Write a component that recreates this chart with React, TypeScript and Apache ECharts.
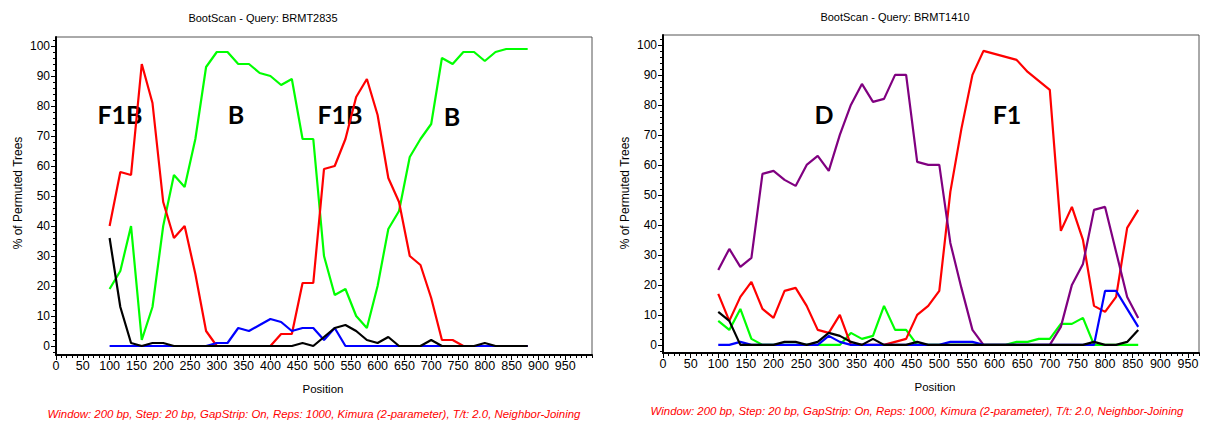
import React, { useEffect, useRef } from "react";
import * as echarts from "echarts";

// ---------- data ----------
const leftPositions = [100,120,140,160,180,200,220,240,260,280,300,320,340,360,380,400,420,440,460,480,500,520,540,560,580,600,620,640,660,680,700,720,740,760,780,800,820,840,860,880];
const leftRed   = [40,58,57,94,81,48,36,40,24,5, 0,0,0,0,0,0,4,4,21,21, 59,60,69,83,89,77,56,48,30,27, 16,2,2,0,0,0,0,0,0,0];
const leftGreen = [19,25,40,2,13,40,57,53,69,93, 98,98,94,94,91,90,87,89,69,69, 30,17,19,10,6,20,39,45,63,69, 74,96,94,98,98,95,98,99,99,99];
const leftBlue  = [0,0,0,0,0,0,0,0,0,0, 1,1,6,5,7,9,8,5,6,6, 2,6,0,0,0,0,0,0,0,0, 0,0,0,0,0,0,0,0,0,0];
const leftBlack = [36,13,1,0,1,1,0,0,0,0, 0,0,0,0,0,0,0,0,1,0, 3,6,7,5,2,1,3,0,0,0, 2,0,0,0,0,1,0,0,0,0];

const rightPositions = [100,120,140,160,180,200,220,240,260,280,300,320,340,360,380,400,420,440,460,480,500,520,540,560,580,600,620,640,660,680,700,720,740,760,780,800,820,840,860];
const rightPurple = [25,32,26,29,57,58,55,53,60,63, 58,70,80,87,81,82,90,90,61,60, 60,34,19,5,0,0,0,0,0,0, 0,6,20,27,45,46,31,16,9];
const rightRed    = [17,8,16,21,12,9,18,19,13,5, 4,10,0,0,0,0,1,2,10,13, 18,51,72,90,98,97,96,95,91,88, 85,38,46,35,13,11,16,39,45];
const rightGreen  = [8,5,12,2,0,0,0,0,0,0, 0,0,4,2,3,13,5,5,0,0, 0,0,0,0,0,0,0,1,1,2, 2,7,7,9,0,0,0,0,0];
const rightBlue   = [0,0,1,0,0,0,0,0,0,0, 3,1,0,0,0,0,0,0,0,0, 0,1,1,1,0,0,0,0,0,0, 0,0,0,0,0,18,18,12,6];
const rightBlack  = [11,8,0,0,0,0,1,1,0,1, 4,3,1,0,2,0,0,0,1,0, 0,0,0,0,0,0,0,0,0,0, 0,0,0,0,1,0,0,1,5];

const xTickLabels = [0,50,100,150,200,250,300,350,400,450,500,550,600,650,700,750,800,850,900,950];
const yTickLabels = [0,10,20,30,40,50,60,70,80,90,100];

const titles = ["BootScan - Query: BRMT2835", "BootScan - Query: BRMT1410"];
const yName = "% of Permuted Trees";
const xName = "Position";
const footnote = "Window: 200 bp, Step: 20 bp, GapStrip: On, Reps: 1000, Kimura (2-parameter), T/t: 2.0, Neighbor-Joining";
const leftRegions = ["F1B", "B", "F1B", "B"];
const rightRegions = ["D", "F1"];

// ---------- helpers ----------
const FONT = "'Liberation Sans', Arial, sans-serif";
const NARROW = "'Liberation Sans Narrow', 'Arial Narrow', 'Liberation Sans', Arial, sans-serif";

function range(a: number, b: number, step: number) {
  const out: number[] = [];
  for (let v = a; v <= b + 1e-9; v += step) out.push(Math.round(v * 100) / 100);
  return out;
}

function pairs(xs: number[], ys: number[]) {
  return xs.map((x, i) => [x, ys[i]]);
}

function xAxesFor(gridIndex: number, max: number) {
  const major = {
    type: "value", gridIndex, position: "bottom", min: 0, max,
    axisLine: { show: true, onZero: false, lineStyle: { color: "#000", width: 2 } },
    axisTick: { show: true, length: 5, customValues: xTickLabels.filter(v => v <= max), lineStyle: { color: "#000", width: 1 } },
    axisLabel: { show: true, customValues: xTickLabels, margin: 4, color: "#000", fontSize: 12.5, fontFamily: NARROW },
    splitLine: { show: false },
  };
  const minor = {
    type: "value", gridIndex, position: "bottom", min: 0, max,
    axisLine: { show: false, onZero: false },
    axisTick: { show: true, length: 3, customValues: range(0, max, 10), lineStyle: { color: "#000", width: 1 } },
    axisLabel: { show: false },
    splitLine: { show: false },
  };
  return [major, minor];
}

function yAxesFor(gridIndex: number, min: number, max: number) {
  const major = {
    type: "value", gridIndex, position: "left", min, max,
    axisLine: { show: true, onZero: false, lineStyle: { color: "#000", width: 2 } },
    axisTick: { show: true, length: 5, customValues: yTickLabels, lineStyle: { color: "#000", width: 1 } },
    axisLabel: { show: true, customValues: yTickLabels, margin: 6, color: "#000", fontSize: 12, fontFamily: FONT },
    splitLine: { show: false },
  };
  const minor = {
    type: "value", gridIndex, position: "left", min, max,
    axisLine: { show: false, onZero: false },
    axisTick: { show: true, length: 3, customValues: range(-2, 102, 2), lineStyle: { color: "#000", width: 1 } },
    axisLabel: { show: false },
    splitLine: { show: false },
  };
  return [major, minor];
}

function line(name: string, color: string, data: number[][], axisIdx: number) {
  return {
    name, type: "line", xAxisIndex: axisIdx, yAxisIndex: axisIdx,
    data, showSymbol: false, symbol: "none",
    lineStyle: { color, width: 2.2 }, itemStyle: { color },
    silent: true,
  };
}

function text(x: number, y: number, t: string, opts: any = {}) {
  return {
    type: "text", x, y, rotation: opts.rotation || 0, silent: true,
    style: {
      text: t, x: 0, y: 0,
      align: "center", verticalAlign: "middle",
      textAlign: "center", textVerticalAlign: "middle",
      fontSize: opts.fontSize || 11,
      fontFamily: opts.fontFamily || FONT,
      fontWeight: opts.fontWeight || "normal",
      fontStyle: opts.fontStyle || "normal",
      fill: opts.fill || "#000",
    },
  };
}

export default function App() {
  const ref = useRef<HTMLDivElement>(null);

  useEffect(() => {
    if (!ref.current) return;
    const chart = echarts.init(ref.current, undefined, { renderer: "svg" });

    const [lxMaj, lxMin] = xAxesFor(0, 1000);
    const [rxMaj, rxMin] = xAxesFor(1, 970);
    const [lyMaj, lyMin] = yAxesFor(0, -3, 103);
    const [ryMaj, ryMin] = yAxesFor(1, -2.7, 103.3);

    const L = leftPositions, R = rightPositions;
    const bigFont = { fontSize: 25, fontWeight: "bold", fontFamily: "Lato, 'Open Sans', sans-serif" };

    chart.setOption({
      animation: false,
      backgroundColor: "#fff",
      grid: [
        { left: 56, top: 37, width: 536, height: 318, show: true, borderColor: "#555", borderWidth: 1, backgroundColor: "#fff" },
        { left: 663, top: 35, width: 536, height: 318, show: true, borderColor: "#555", borderWidth: 1, backgroundColor: "#fff" },
      ],
      // order: 0 left major, 1 right major, 2 left minor, 3 right minor
      xAxis: [lxMaj, rxMaj, lxMin, rxMin],
      yAxis: [lyMaj, ryMaj, lyMin, ryMin],
      series: [
        line("Green", "#00ff00", pairs(L, leftGreen), 0),
        line("Red", "#ff0000", pairs(L, leftRed), 0),
        line("Blue", "#0000ff", pairs(L, leftBlue), 0),
        line("Black", "#000000", pairs(L, leftBlack), 0),
        line("Green", "#00ff00", pairs(R, rightGreen), 1),
        line("Red", "#ff0000", pairs(R, rightRed), 1),
        line("Purple", "#800080", pairs(R, rightPurple), 1),
        line("Blue", "#0000ff", pairs(R, rightBlue), 1),
        line("Black", "#000000", pairs(R, rightBlack), 1),
      ],
      graphic: [
        text(263, 18, titles[0], { fontSize: 11 }),
        text(895, 17, titles[1], { fontSize: 11 }),
        text(18, 193, yName, { fontSize: 12, rotation: Math.PI / 2 }),
        text(625, 193, yName, { fontSize: 12, rotation: Math.PI / 2 }),
        text(323, 389, xName, { fontSize: 11.5 }),
        text(935, 387, xName, { fontSize: 11.5 }),
        text(314, 414, footnote, { fontSize: 11.4, fontStyle: "italic", fill: "#ff0000" }),
        text(917, 411, footnote, { fontSize: 11.4, fontStyle: "italic", fill: "#ff0000" }),
        text(120, 114, leftRegions[0], bigFont),
        text(236, 114, leftRegions[1], bigFont),
        text(340, 114, leftRegions[2], bigFont),
        text(452, 116, leftRegions[3], bigFont),
        text(824, 114, rightRegions[0], bigFont),
        text(1007, 114, rightRegions[1], bigFont),
      ],
    });

    return () => chart.dispose();
  }, []);

  return (
    <div
      ref={ref}
      style={{ position: "fixed", left: 0, top: 0, width: 1207, height: 425, background: "#fff" }}
    />
  );
}
